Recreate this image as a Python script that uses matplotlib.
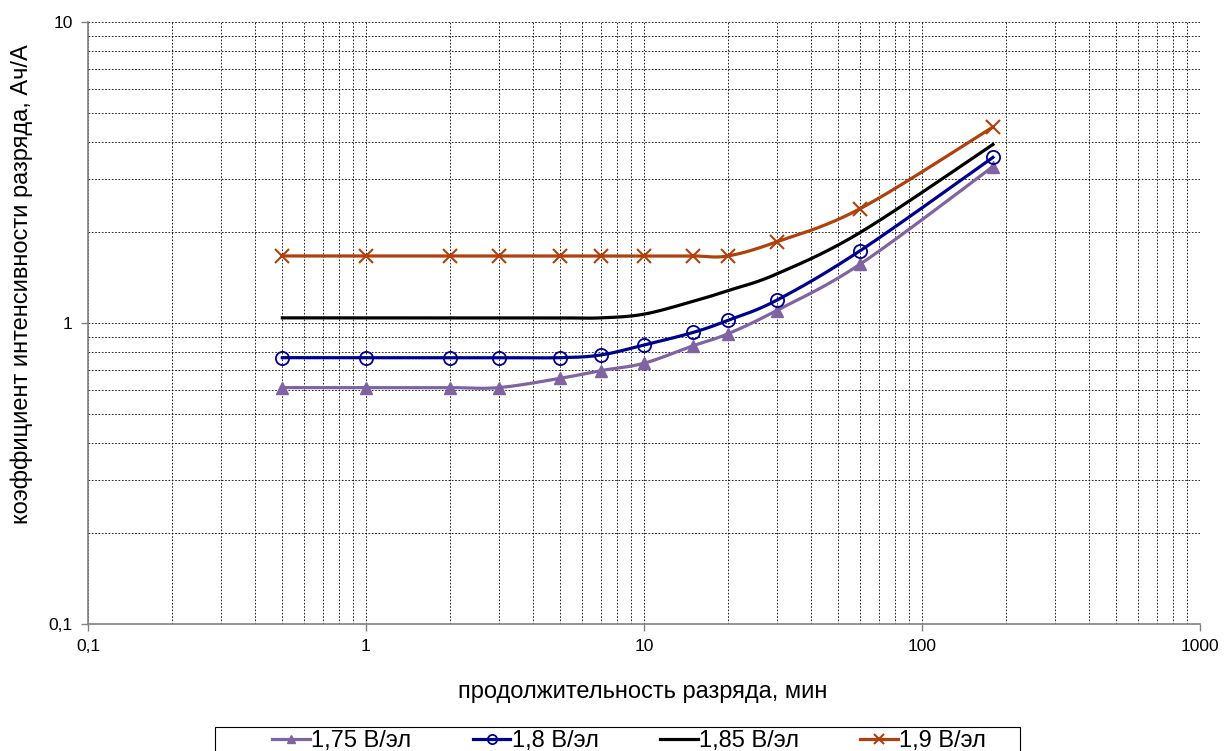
import numpy as np
import matplotlib.pyplot as plt
from matplotlib.patches import Rectangle
from matplotlib.ticker import FixedLocator, LogLocator, NullFormatter

plt.rcParams['font.family'] = ['Liberation Sans', 'DejaVu Sans']

# discharge duration, min
minutes = [0.5, 1, 2, 3, 5, 7, 10, 15, 20, 30, 60, 180]

# discharge intensity coefficient, Ah/A, per end voltage
k_175 = [0.61, 0.61, 0.61, 0.61, 0.655, 0.695, 0.735, 0.84, 0.92, 1.10, 1.57, 3.31]
k_180 = [0.767, 0.767, 0.767, 0.767, 0.767, 0.783, 0.845, 0.93, 1.02, 1.19, 1.74, 3.55]
k_185 = [1.04, 1.04, 1.04, 1.04, 1.04, 1.04, 1.07, 1.18, 1.28, 1.455, 2.0, 3.92]
k_190 = [1.67, 1.67, 1.67, 1.67, 1.67, 1.67, 1.67, 1.67, 1.67, 1.86, 2.40, 4.48]

labels = ['1,75 В/эл', '1,8 В/эл', '1,85 В/эл', '1,9 В/эл']


def smooth(x, y, n=30):
    # Excel-style smoothed line (Catmull-Rom) done in log-log space
    px = np.log10(x)
    py = np.log10(y)
    px = np.concatenate([[px[0]], px, [px[-1]]])
    py = np.concatenate([[py[0]], py, [py[-1]]])
    xs, ys = [], []
    t = np.linspace(0, 1, n)
    for i in range(1, len(px) - 2):
        p0x, p1x, p2x, p3x = px[i - 1:i + 3]
        p0y, p1y, p2y, p3y = py[i - 1:i + 3]
        c1x = p1x + (p2x - p0x) / 6
        c1y = p1y + (p2y - p0y) / 6
        c2x = p2x - (p3x - p1x) / 6
        c2y = p2y - (p3y - p1y) / 6
        bx = (1 - t) ** 3 * p1x + 3 * (1 - t) ** 2 * t * c1x + 3 * (1 - t) * t ** 2 * c2x + t ** 3 * p2x
        by = (1 - t) ** 3 * p1y + 3 * (1 - t) ** 2 * t * c1y + 3 * (1 - t) * t ** 2 * c2y + t ** 3 * p2y
        xs.append(bx)
        ys.append(by)
    return 10 ** np.concatenate(xs), 10 ** np.concatenate(ys)


W, H = 1224, 751
fig = plt.figure(figsize=(W / 100, H / 100), dpi=100)
ax = fig.add_axes([88 / W, 1 - 624 / H, 1112 / W, 602 / H])

series = [
    (k_175, '#8064A2', dict(marker='^', markerfacecolor='#8064A2', markeredgecolor='#8064A2'), 9),
    (k_180, '#000090', dict(marker='o', markerfacecolor='none', markeredgecolor='#000090', markeredgewidth=1.3), 9.5),
    (k_185, '#000000', dict(marker=None), 0),
    (k_190, '#B0400C', dict(marker='x', markeredgecolor='#B0400C', markeredgewidth=1.5), 10),
]

handles = []
for (vals, col, mk, ms), lab in zip(series, labels):
    sx, sy = smooth(minutes, vals)
    ax.plot(sx, sy, color=col, lw=2.3, zorder=3)
    if mk['marker'] is not None:
        ax.plot(minutes, vals, ls='none', markersize=ms, zorder=4, **mk)
    h, = ax.plot([], [], color=col, lw=2.3, markersize=ms * 0.7, **mk)
    handles.append(h)

ax.set_xscale('log')
ax.set_yscale('log')
ax.set_xlim(0.1, 1000)
ax.set_ylim(0.1, 10)

ax.xaxis.set_major_locator(FixedLocator([0.1, 1, 10, 100, 1000]))
ax.yaxis.set_major_locator(FixedLocator([0.1, 1, 10]))
ax.set_xticklabels(['0,1', '1', '10', '100', '1000'])
ax.set_yticklabels(['0,1', '1', '10'])
ax.xaxis.set_minor_locator(LogLocator(base=10, subs=np.arange(2, 10)))
ax.yaxis.set_minor_locator(LogLocator(base=10, subs=np.arange(2, 10)))
ax.xaxis.set_minor_formatter(NullFormatter())
ax.yaxis.set_minor_formatter(NullFormatter())
ax.tick_params(which='major', length=5, width=1, color='#808080', labelsize=12.5, pad=6)
ax.tick_params(which='minor', length=0)

ax.grid(which='both', color='#000000', ls=(0, (2, 2)), lw=0.6, zorder=0)
for s in ['top', 'right']:
    ax.spines[s].set_visible(False)
for s in ['left', 'bottom']:
    ax.spines[s].set_color('#808080')
    ax.spines[s].set_linewidth(1.2)

fig.text(643 / W, 1 - 692 / H, 'продолжительность разряда, мин', fontsize=17,
         ha='center', va='center')
fig.text(22 / W, 1 - 284 / H, 'коэффициент интенсивности разряда, Ач/А', fontsize=17,
         ha='center', va='center', rotation=90)

# legend box (runs off the bottom edge, as in the source image)
fig.patches.append(Rectangle((215 / W, -0.02), 805 / W, 0.02 + 24 / H,
                             transform=fig.transFigure, fill=False,
                             edgecolor='#000000', lw=0.8))
fig.legend(handles, labels, loc='center', bbox_to_anchor=(0.514, 1 - 741 / H),
           ncol=4, fontsize=17, frameon=False, handlelength=1.6,
           handletextpad=0.05, columnspacing=2.6, borderpad=0)

fig.savefig('out.png', dpi=100)
